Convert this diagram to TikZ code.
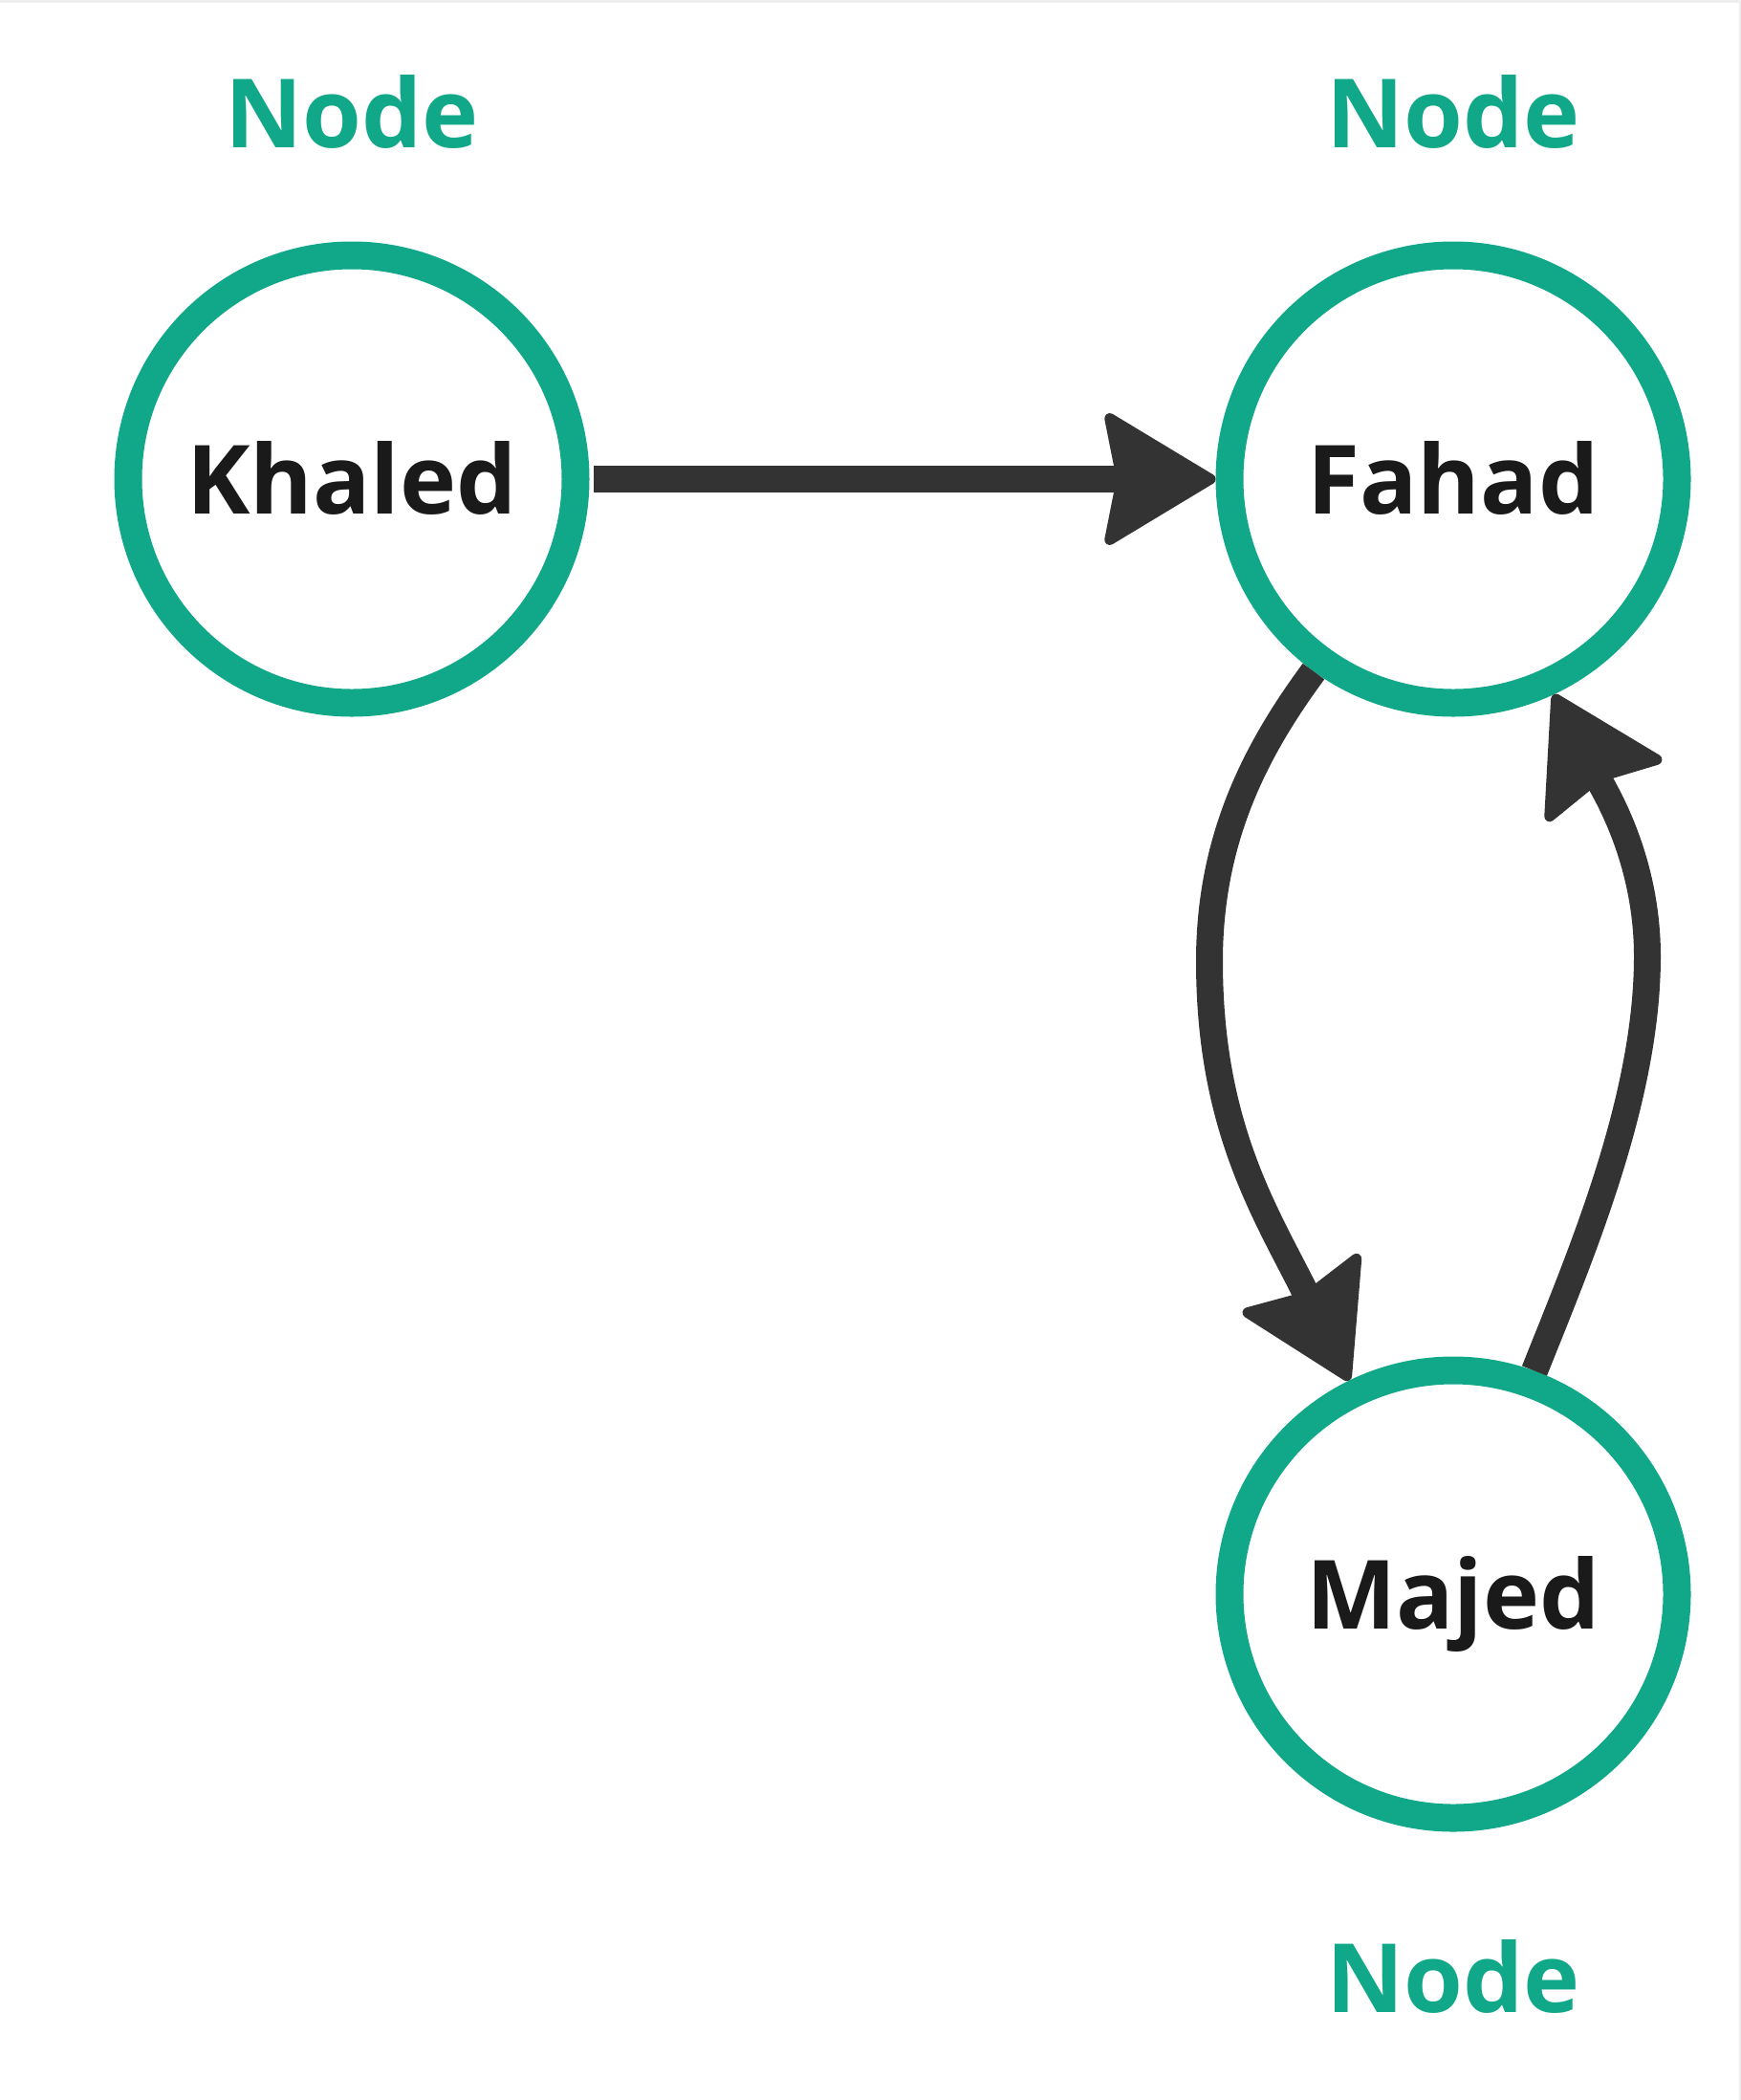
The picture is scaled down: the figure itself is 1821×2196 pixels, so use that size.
\documentclass[tikz,border=0pt]{standalone}
\usepackage{fontspec}
\setmainfont{Open Sans}
\usetikzlibrary{arrows.meta}
\definecolor{nodegreen}{HTML}{10A888}
\definecolor{arrowgray}{HTML}{333333}
\definecolor{textblack}{HTML}{1A1A1A}
\definecolor{edgegray}{HTML}{EEEEEE}
\begin{document}
\begin{tikzpicture}[x=1pt,y=-1pt,
  state/.style={circle, draw=nodegreen, line width=29pt, minimum size=468pt,
    inner sep=0pt, text height=72pt, text depth=0pt, text=textblack,
    font=\fontsize{100}{120}\selectfont\bfseries},
  tag/.style={anchor=base, inner sep=0pt, text=nodegreen,
    font=\fontsize{100}{120}\selectfont\bfseries},
  link/.style={draw=arrowgray, line width=28pt,
    -{Stealth[length=123pt,width=147pt,inset=14pt,round,line width=11pt]}}]
\useasboundingbox (0,0) rectangle (1821,2196);
\draw[edgegray, line width=5pt] (0,0) -- (1821,0) -- (1821,2196);
\node[state] (K) at (368,501) {Khaled};
\node[state] (F) at (1520,501) {Fahad};
\node[state] (M) at (1520,1667) {Majed};
\node[tag] (KT) at (368,154) {Node};
\node[tag] (FT) at (1520,154) {Node};
\node[tag] (MT) at (1520,2104) {Node};
\coordinate (P1) at (1265,1005);
\coordinate (P2) at (1723,1000);
\draw[link, shorten <=4pt] (K) -- (F);
\draw[link] (F.234) .. controls (1315,782) and (1265,875) .. (P1)
  .. controls (1265,1180) and (1325,1270) .. (M.116);
\draw[link] (M.70) .. controls (1653,1313) and (1723,1150) .. (P2)
  .. controls (1723,900) and (1680,830) .. (F.295);
\end{tikzpicture}
\end{document}
